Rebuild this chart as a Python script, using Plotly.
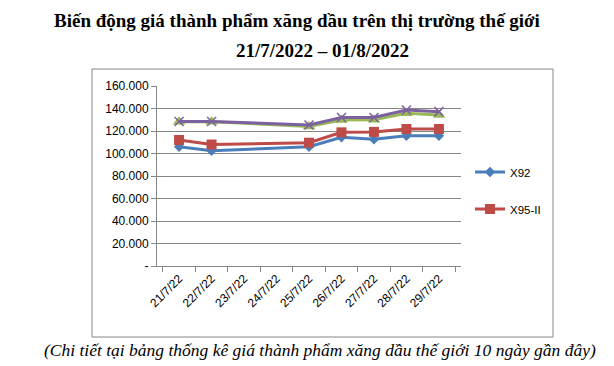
import plotly.graph_objects as go

dates = ["21/7/22", "22/7/22", "23/7/22", "24/7/22", "25/7/22",
         "26/7/22", "27/7/22", "28/7/22", "29/7/22"]
x92 = [106.0, 102.5, None, None, 106.0, 114.4, 112.6, 115.8, 115.8]
x95 = [112.0, 108.0, None, None, 109.6, 118.8, 119.2, 121.8, 121.8]
dau_hoa = [128.3, 128.3, None, None, 124.0, 129.8, 130.0, 135.7, 134.2]
dau_diesel = [128.5, 128.5, None, None, 125.3, 132.0, 132.0, 138.7, 137.2]
ytick_vals = [0, 20, 40, 60, 80, 100, 120, 140, 160]
ytick_text = ["-", "20.000", "40.000", "60.000", "80.000", "100.000",
              "120.000", "140.000", "160.000"]

title1 = "Biến động giá thành phẩm xăng dầu trên thị trường thế giới"
title2 = "21/7/2022 – 01/8/2022"
footer = "(Chi tiết tại bảng thống kê giá thành phẩm xăng dầu thế giới 10 ngày gần đây)"

fig = go.Figure()
fig.add_trace(go.Scatter(x=dates, y=x92, name="X92", mode="lines+markers",
                         connectgaps=True, legend="legend",
                         line=dict(color="#4A7EBB", width=3),
                         marker=dict(symbol="diamond", size=8, color="#4A7EBB")))
fig.add_trace(go.Scatter(x=dates, y=x95, name="X95-II", mode="lines+markers",
                         connectgaps=True, legend="legend2",
                         line=dict(color="#BE4B48", width=3),
                         marker=dict(symbol="square", size=10, color="#BE4B48")))
fig.add_trace(go.Scatter(x=dates, y=dau_hoa, name="Dầu hỏa", mode="lines+markers",
                         connectgaps=True, showlegend=False,
                         line=dict(color="#98B954", width=3),
                         marker=dict(symbol="triangle-up", size=11, color="#98B954")))
fig.add_trace(go.Scatter(x=dates, y=dau_diesel, name="Dầu Diesel", mode="lines+markers",
                         connectgaps=True, showlegend=False,
                         line=dict(color="#7D60A0", width=3),
                         marker=dict(symbol="x-thin", size=9,
                                     line=dict(color="#7D60A0", width=1.5))))

# page body has an 8px margin, so target pixel positions are shifted by -8
OFF = 8
L, R, T, B = 157 - OFF, 461 - OFF, 86 - OFF, 266 - OFF
W, H = 614, 366
def px(xp):
    return (xp - OFF - L) / (R - L)
def py(yp):
    return (B - (yp - OFF)) / (B - T)

serif = "Liberation Serif, Times New Roman, serif"
fig.update_layout(
    width=W, height=H,
    margin=dict(l=L, r=W - R, t=T, b=H - B),
    paper_bgcolor="white", plot_bgcolor="white",
    font=dict(family="Liberation Sans, Arial, sans-serif", size=11, color="#000"),
    xaxis=dict(type="category", categoryorder="array", categoryarray=dates,
               tickangle=-45, showgrid=False, showline=True, linecolor="#868686",
               linewidth=1, ticks="outside", tickson="boundaries", ticklen=5,
               tickcolor="#868686", tickfont=dict(size=12), fixedrange=True),
    yaxis=dict(range=[0, 160], tickvals=ytick_vals, ticktext=ytick_text,
               showgrid=True, gridcolor="#868686", gridwidth=1,
               showline=True, linecolor="#868686", linewidth=1,
               ticks="outside", ticklen=5, tickcolor="#868686",
               tickfont=dict(size=12), zeroline=False, fixedrange=True),
    legend=dict(x=px(470), y=py(172), xanchor="left", yanchor="middle",
                bgcolor="rgba(0,0,0,0)", itemwidth=30, font=dict(size=11.5)),
    legend2=dict(x=px(470), y=py(209), xanchor="left", yanchor="middle",
                 bgcolor="rgba(0,0,0,0)", itemwidth=30, font=dict(size=11.5)),
    shapes=[dict(type="rect", xref="paper", yref="paper",
                 x0=px(92), x1=px(553), y0=py(337), y1=py(69),
                 line=dict(color="#868686", width=1), fillcolor="rgba(0,0,0,0)",
                 layer="below")],
    annotations=[
        dict(text="<b>" + title1 + "</b>", xref="paper", yref="paper",
             x=px(297), y=py(20), xanchor="center", yanchor="middle",
             showarrow=False, font=dict(family=serif, size=19)),
        dict(text="<b>" + title2 + "</b>", xref="paper", yref="paper",
             x=px(322), y=py(50), xanchor="center", yanchor="middle",
             showarrow=False, font=dict(family=serif, size=19)),
        dict(text="<i>" + footer + "</i>", xref="paper", yref="paper",
             x=px(320), y=py(350), xanchor="center", yanchor="middle",
             showarrow=False, font=dict(family=serif, size=17.5)),
    ],
)

fig.write_html("out.html")
